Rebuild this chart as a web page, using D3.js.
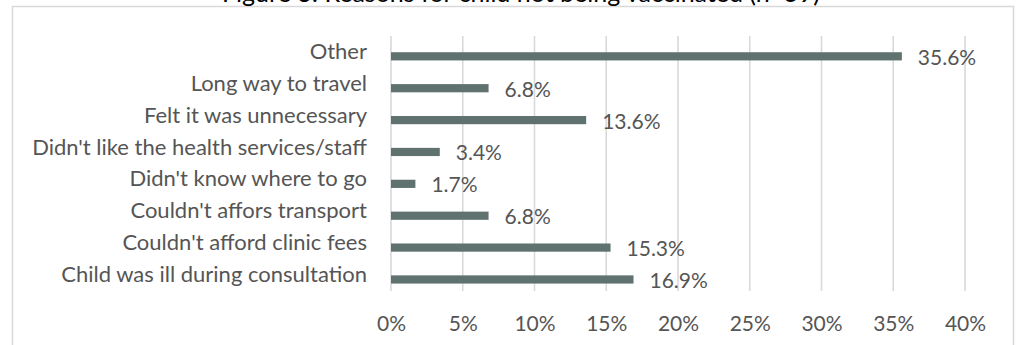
<!DOCTYPE html>
<html>
<head>
<meta charset="utf-8">
<script src="https://cdn.jsdelivr.net/npm/d3@7"></script>
<style>
  html, body { margin: 0; padding: 0; background: #fff; }
  svg { display: block; }
  text { font-family: Lato, "Open Sans", sans-serif; }
</style>
</head>
<body>
<svg id="chart" width="1021" height="345"></svg>
<script>
// Reasons for non-vaccination, share of respondents (n=59)
const categories = [
  "Other",
  "Long way to travel",
  "Felt it was unnecessary",
  "Didn't like the health services/staff",
  "Didn't know where to go",
  "Couldn't affors transport",
  "Couldn't afford clinic fees",
  "Child was ill during consultation"
];
const values = [35.6, 6.8, 13.6, 3.4, 1.7, 6.8, 15.3, 16.9];
const xTicks = [0, 5, 10, 15, 20, 25, 30, 35, 40];
const titleText = "Figure 3: Reasons for child not being vaccinated (n=59)";

const plot = { left: 391, right: 965, top: 36, bottom: 291 };
const barColor = "#5f7270";
const textColor = "#555555";
const gridColor = "#d9d9d9";
const catFont = 22;
const numFont = 21;
const barShift = 4.4;   // bars sit slightly below the category band centres
const barH = 8.2;

const svg = d3.select("#chart");

// outer chart frame
svg.append("rect")
  .attr("x", 12.5).attr("y", 6.5)
  .attr("width", 1001).attr("height", 360)
  .attr("fill", "none").attr("stroke", gridColor).attr("stroke-width", 1.5);

// title (sits above the frame)
svg.append("text")
  .attr("x", 521).attr("y", 1.5)
  .attr("text-anchor", "middle")
  .attr("font-size", 25)
  .attr("fill", "#000")
  .text(titleText);

const x = d3.scaleLinear().domain([0, 40]).range([plot.left, plot.right]);
const y = d3.scaleBand().domain(categories).range([plot.top, plot.bottom]);

// vertical gridlines
svg.append("g").selectAll("line")
  .data(xTicks).join("line")
  .attr("x1", d => x(d)).attr("x2", d => x(d))
  .attr("y1", plot.top).attr("y2", plot.bottom)
  .attr("stroke", gridColor).attr("stroke-width", 1.6);

// x tick labels
const xAxis = d3.axisBottom(x).tickValues(xTicks).tickFormat(d => d + "%").tickSize(0).tickPadding(0);
const gx = svg.append("g").attr("transform", `translate(0,${plot.bottom})`).call(xAxis);
gx.select(".domain").remove();
gx.selectAll("text")
  .attr("y", 0).attr("dy", "40")
  .attr("font-size", numFont)
  .attr("font-family", "Lato, 'Open Sans', sans-serif")
  .attr("fill", textColor);

// category labels
const yAxis = d3.axisLeft(y).tickSize(0).tickPadding(0);
const gy = svg.append("g").attr("transform", `translate(367,0)`).call(yAxis);
gy.select(".domain").remove();
gy.selectAll("text")
  .attr("x", 0)
  .attr("font-size", catFont)
  .attr("font-family", "Lato, 'Open Sans', sans-serif")
  .attr("fill", textColor);

// bars
const rows = categories.map((c, i) => ({ c, v: values[i] }));
svg.append("g").selectAll("rect")
  .data(rows).join("rect")
  .attr("x", x(0))
  .attr("y", d => y(d.c) + y.bandwidth() / 2 + barShift - barH / 2)
  .attr("width", d => x(d.v) - x(0))
  .attr("height", barH)
  .attr("fill", barColor);

// value labels
svg.append("g").selectAll("text")
  .data(rows).join("text")
  .attr("x", d => x(d.v) + 16)
  .attr("y", d => y(d.c) + y.bandwidth() / 2 + barShift + 8.5)
  .attr("font-size", numFont)
  .attr("fill", textColor)
  .text(d => d.v.toFixed(1) + "%");
</script>
</body>
</html>
